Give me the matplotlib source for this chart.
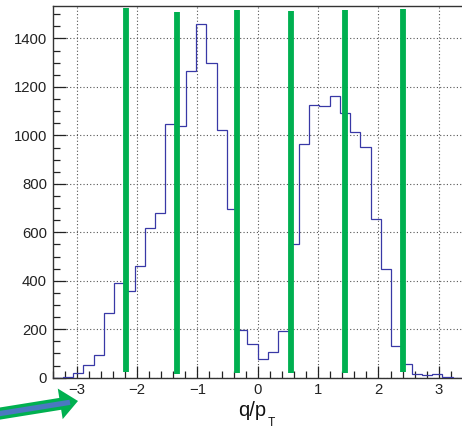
import numpy as np
import matplotlib
matplotlib.use("Agg")
import matplotlib.pyplot as plt
from matplotlib.ticker import MultipleLocator
from matplotlib.patches import FancyArrow

plt.rcParams['font.family'] = ['Liberation Sans', 'DejaVu Sans']

# ---- data ----
x_min, x_max, n_bins = -3.4, 3.4, 40
counts = [0, 3, 18, 52, 95, 267, 392, 356, 463, 616,
          678, 1046, 1037, 1265, 1461, 1298, 1023, 698, 197, 138,
          76, 106, 192, 550, 966, 1127, 1123, 1163, 1093, 1012,
          954, 653, 447, 131, 55, 15, 12, 14, 2, 0]
cut_x = [-2.19, -1.33, -0.35, 0.556, 1.45, 2.41]
cut_lo = [25, 15, 18, 18, 18, 22]
cut_hi = [1527, 1509, 1516, 1512, 1516, 1521]
x_ticks = [-3, -2, -1, 0, 1, 2, 3]
y_ticks = [0, 200, 400, 600, 800, 1000, 1200, 1400]
y_max = 1534
x_title_main = 'q/p'
x_title_sub = 'T'

edges = np.linspace(x_min, x_max, n_bins + 1)

fig = plt.figure(figsize=(4.62, 4.28), dpi=100)
ax = fig.add_axes([52.5/462, 1 - 377.7/428, (463 - 52.5)/462, (377.7 - 6)/428])

ax.stairs(counts, edges, color='#3838a6', linewidth=0.9, baseline=0, zorder=3)
ax.vlines(cut_x, cut_lo, cut_hi, colors='#00b050', linewidth=4.2, zorder=4)

ax.set_xlim(x_min, x_max)
ax.set_ylim(0, y_max)
ax.set_xticks(x_ticks)
ax.set_yticks(y_ticks)
ax.xaxis.set_minor_locator(MultipleLocator(0.2))
ax.yaxis.set_minor_locator(MultipleLocator(50))
ax.tick_params(which='both', direction='in', top=False, right=False,
               labelsize=10.7, colors='#222222', width=0.9)
ax.tick_params(which='major', length=9, pad=4)
ax.tick_params(which='minor', length=4.8)
ax.grid(True, which='major', color='#555555', linestyle=(0, (1, 2)), linewidth=0.8)
ax.set_axisbelow(True)
for s in ax.spines.values():
    s.set_color('#333333')
    s.set_linewidth(1.0)

# overlay in figure pixel coordinates for title and decorative arrow
ov = fig.add_axes([0, 0, 1, 1], facecolor='none')
ov.set_xlim(0, 462)
ov.set_ylim(428, 0)
ov.axis('off')

ov.text(238, 416, x_title_main, fontsize=14.5, ha='left', va='baseline', color='#111111')
ov.text(267.5, 426.5, x_title_sub, fontsize=8.6, ha='left', va='baseline', color='#111111')

ov.add_patch(FancyArrow(-6, 414.5, 84, -13.5, width=12, head_width=31,
                        head_length=18, length_includes_head=True,
                        color='#00b050', linewidth=0))
ov.plot([-6, 70], [414.5, 402.3], color='#4a78c0', linewidth=3.8,
        solid_capstyle='butt')

fig.savefig('out.png', dpi=100)
